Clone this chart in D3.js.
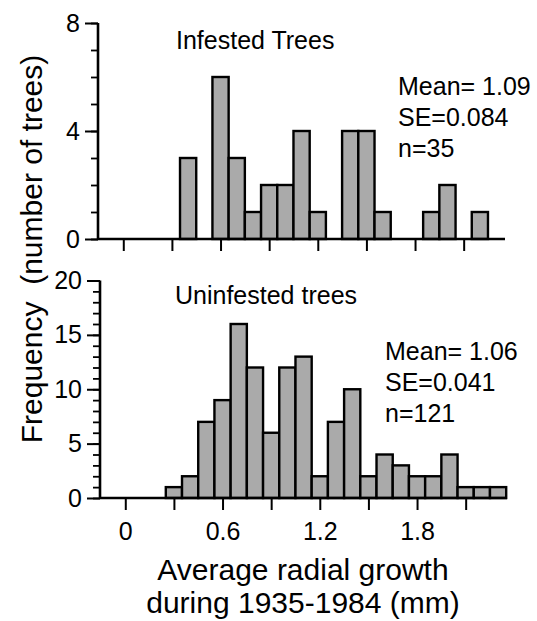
<!DOCTYPE html>
<html>
<head>
<meta charset="utf-8">
<script src="https://cdn.jsdelivr.net/npm/d3@7"></script>
<style>
  body { margin: 0; background: #fff; }
  svg text { font-family: "Liberation Sans", Arial, sans-serif; fill: #000; }
</style>
</head>
<body>
<div id="chart"></div>
<script>
// bin centres (mm), bin width 0.1
const binCenters = [0.3, 0.4, 0.5, 0.6, 0.7, 0.8, 0.9, 1.0, 1.1, 1.2, 1.3,
                    1.4, 1.5, 1.6, 1.7, 1.8, 1.9, 2.0, 2.1, 2.2, 2.3];
const infested   = [0, 3, 0, 6, 3, 1, 2, 2, 4, 1, 0, 4, 4, 1, 0, 0, 1, 2, 0, 1, 0];
const uninfested = [1, 2, 7, 9, 16, 12, 6, 12, 13, 2, 7, 10, 2, 4, 3, 2, 2, 4, 1, 1, 1];

const xTicks = [0, 0.3, 0.6, 0.9, 1.2, 1.5, 1.8, 2.1];
const xLabels = [0, 0.6, 1.2, 1.8];
const infestedTicks = [0, 4, 8];
const uninfestedTicks = [0, 5, 10, 15, 20];
const infestedStats = ['Mean= 1.09', 'SE=0.084', 'n=35'];
const uninfestedStats = ['Mean= 1.06', 'SE=0.041', 'n=121'];

const width = 537, height = 621;
const binWidth = 0.1;

const svg = d3.select('#chart').append('svg')
    .attr('width', width)
    .attr('height', height);

// draws one histogram panel
function drawPanel(opts) {
    const x = d3.scaleLinear()
        .domain([-0.156, 2.355])
        .range([opts.left, opts.left + 407]);
    const y = d3.scaleLinear()
        .domain([0, opts.yMax])
        .range([opts.bottom, opts.top]);

    const g = svg.append('g');

    // bars (skip empty bins)
    const data = binCenters.map((c, i) => ({c: c, v: opts.values[i]}))
        .filter(d => d.v > 0);
    g.selectAll('.bar')
        .data(data)
        .enter()
        .append('rect')
        .attr('class', 'bar')
        .attr('x', d => x(d.c - binWidth / 2))
        .attr('width', d => x(d.c + binWidth / 2) - x(d.c - binWidth / 2))
        .attr('y', d => y(d.v))
        .attr('height', d => y(0) - y(d.v))
        .attr('fill', '#aaaaaa')
        .attr('stroke', '#000')
        .attr('stroke-width', 2.4);

    // minor y ticks
    const minorAxis = d3.axisLeft(y).ticks(opts.yMax).tickSize(7).tickFormat('');
    const gMinor = g.append('g')
        .attr('transform', `translate(${opts.left},0)`)
        .call(minorAxis);
    gMinor.select('.domain').remove();
    gMinor.selectAll('line').attr('stroke-width', 1.8);

    // major y ticks
    const yAxis = d3.axisLeft(y).tickValues(opts.yTicks).tickSize(13).tickPadding(5);
    const gy = g.append('g')
        .attr('transform', `translate(${opts.left},0)`)
        .call(yAxis);
    gy.select('.domain').attr('d', `M0,${opts.top}V${opts.bottom}`).attr('stroke-width', 2.6);
    gy.selectAll('line').attr('stroke-width', 2);
    gy.selectAll('text').style('font-size', '25px');

    // x axis
    const xAxis = d3.axisBottom(x).tickValues(xTicks).tickSize(12).tickPadding(12)
        .tickFormat(d => opts.labels && xLabels.includes(d) ? d3.format('')(d) : '');
    const gx = g.append('g')
        .attr('transform', `translate(0,${opts.bottom})`)
        .call(xAxis);
    gx.select('.domain').attr('d', `M${x.range()[0]},0H${x.range()[1]}`).attr('stroke-width', 2.6);
    gx.selectAll('line').attr('stroke-width', 2);
    gx.selectAll('text').style('font-size', '25px');

    // panel title
    g.append('text')
        .attr('x', opts.titleX)
        .attr('y', opts.titleY)
        .style('font-size', '25px')
        .text(opts.title);

    // stats
    g.selectAll('.stat')
        .data(opts.stats)
        .enter()
        .append('text')
        .attr('class', 'stat')
        .attr('x', opts.statX)
        .attr('y', (d, i) => opts.statY + i * 31)
        .style('font-size', '25px')
        .text(d => d);
}

drawPanel({
    values: infested, yMax: 8, yTicks: infestedTicks,
    left: 98, top: 23, bottom: 239, labels: false,
    title: 'Infested Trees', titleX: 176, titleY: 49,
    stats: infestedStats, statX: 398, statY: 95
});

drawPanel({
    values: uninfested, yMax: 20, yTicks: uninfestedTicks,
    left: 100, top: 280.5, bottom: 498, labels: true,
    title: 'Uninfested trees', titleX: 175, titleY: 304,
    stats: uninfestedStats, statX: 385, statY: 360
});

// axis titles
svg.append('text')
    .attr('text-anchor', 'middle')
    .attr('x', 303)
    .attr('y', 580)
    .style('font-size', '30px')
    .text('Average radial growth');

svg.append('text')
    .attr('text-anchor', 'middle')
    .attr('x', 303)
    .attr('y', 613)
    .style('font-size', '30px')
    .text('during 1935-1984 (mm)');

svg.append('text')
    .attr('text-anchor', 'middle')
    .attr('transform', 'translate(42,249) rotate(-90)')
    .style('font-size', '30px')
    .style('white-space', 'pre')
    .attr('xml:space', 'preserve')
    .text('Frequency  (number of trees)');
</script>
</body>
</html>
